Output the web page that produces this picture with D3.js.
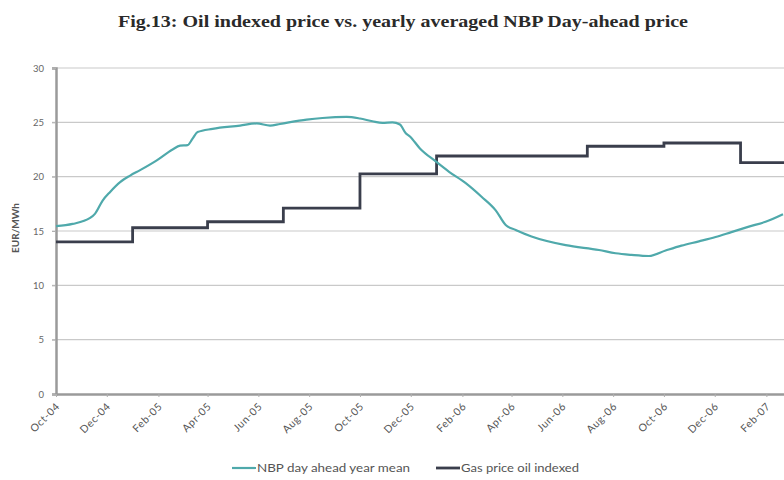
<!DOCTYPE html>
<html>
<head>
<meta charset="utf-8">
<script src="https://cdn.jsdelivr.net/npm/d3@7/dist/d3.min.js"></script>
<style>
  html, body { margin: 0; padding: 0; background: #fff; }
  svg { display: block; }
</style>
</head>
<body>
<svg id="chart" width="784" height="480"></svg>
<script>
// NBP day-ahead price, rolling year mean (EUR/MWh)
const nbpDates = [
  "2004-10-01","2004-10-21","2004-11-11","2004-11-17","2004-11-26","2004-12-05",
  "2004-12-17","2004-12-29","2005-01-10","2005-01-30","2005-02-18","2005-02-27",
  "2005-03-08","2005-03-14","2005-03-20","2005-04-07","2005-05-10","2005-05-30",
  "2005-06-15","2005-06-27","2005-07-29","2005-08-17","2005-09-15","2005-10-01",
  "2005-10-16","2005-10-28","2005-11-09","2005-11-18","2005-11-25","2005-11-30",
  "2005-12-12","2005-12-31","2006-01-16","2006-02-05","2006-02-24","2006-03-13",
  "2006-03-25","2006-04-06","2006-04-25","2006-06-05","2006-07-15","2006-08-04",
  "2006-08-23","2006-09-13","2006-10-03","2006-10-22","2006-11-12","2006-12-02",
  "2006-12-21","2007-01-11","2007-01-31","2007-02-21"
];
const nbpValues = [
  15.45, 15.65, 16.2, 16.6, 17.8, 18.6,
  19.5, 20.1, 20.6, 21.5, 22.5, 22.85,
  22.9, 23.5, 24.1, 24.4, 24.7, 24.9,
  24.7, 24.85, 25.25, 25.4, 25.5, 25.35,
  25.1, 24.95, 25.0, 24.8, 24.0, 23.7,
  22.6, 21.4, 20.45, 19.4, 18.15, 16.9,
  15.55, 15.1, 14.5, 13.7, 13.25, 12.95,
  12.8, 12.7, 13.2, 13.65, 14.05, 14.45,
  14.9, 15.4, 15.85, 16.55
];

// Oil indexed gas price, quarterly resets (EUR/MWh)
const gasDates = [
  "2004-10-01","2005-01-01","2005-04-01","2005-07-01","2005-10-01",
  "2006-01-01","2006-07-01","2006-10-01","2007-01-01","2007-03-01"
];
const gasValues = [14.0, 15.3, 15.85, 17.1, 20.25, 21.9, 22.8, 23.1, 21.3, 21.3];

const yTicks = [0, 5, 10, 15, 20, 25, 30];
const xTickDates = [
  "2004-10-01","2004-12-01","2005-02-01","2005-04-01","2005-06-01","2005-08-01",
  "2005-10-01","2005-12-01","2006-02-01","2006-04-01","2006-06-01","2006-08-01",
  "2006-10-01","2006-12-01","2007-02-01"
];
const seriesNames = ["NBP day ahead year mean", "Gas price oil indexed"];
const titleText = "Fig.13: Oil indexed price vs. yearly averaged NBP Day-ahead price";
const yTitle = "EUR/MWh";

const parse = d3.utcParse("%Y-%m-%d");
const fmt = d3.utcFormat("%b-%y");
const nbp = nbpDates.map((d, i) => ({ date: parse(d), value: nbpValues[i] }));
const gas = gasDates.map((d, i) => ({ date: parse(d), value: gasValues[i] }));

const svg = d3.select("#chart");
const plotLeft = 56, plotBottom = 394, plotTop = 68;
const sans = "Lato, 'Open Sans', sans-serif";

const x = d3.scaleUtc()
  .domain([parse("2004-10-01"), parse("2007-03-01")])
  .range([plotLeft, plotLeft + 881 * (50.8 / 61)]);
const y = d3.scaleLinear().domain([0, 30]).range([plotBottom, plotTop]);

// title
svg.append("text")
  .attr("x", 403).attr("y", 27)
  .attr("text-anchor", "middle")
  .attr("font-family", "'Liberation Serif', 'DejaVu Serif', serif")
  .attr("font-weight", "bold")
  .attr("font-size", 17)
  .attr("fill", "#2a2a2a")
  .attr("textLength", 570)
  .attr("lengthAdjust", "spacingAndGlyphs")
  .text(titleText);

// horizontal gridlines
svg.append("g")
  .selectAll("line")
  .data(yTicks.filter(t => t > 0))
  .join("line")
  .attr("x1", plotLeft - 4).attr("x2", 790)
  .attr("y1", d => y(d)).attr("y2", d => y(d))
  .attr("stroke", "#c9c9c9").attr("stroke-width", 1.2);

// y axis
const yAxis = svg.append("g")
  .attr("transform", `translate(${plotLeft},0)`)
  .call(d3.axisLeft(y).tickValues(yTicks).tickSize(4).tickPadding(8));
yAxis.select(".domain").attr("stroke", "#9a9a9a").attr("stroke-width", 2.5);
yAxis.selectAll(".tick line").attr("stroke", "#b0b0b0");
yAxis.selectAll("text")
  .attr("font-family", sans)
  .attr("font-size", 9.5).attr("fill", "#666");

svg.append("text")
  .attr("transform", `translate(19,${(plotTop + plotBottom) / 2 - 3}) rotate(-90)`)
  .attr("text-anchor", "middle")
  .attr("font-family", sans)
  .attr("font-weight", "bold")
  .attr("font-size", 10).attr("fill", "#555")
  .text(yTitle);

// x axis
const xAxis = svg.append("g")
  .attr("transform", `translate(0,${plotBottom})`)
  .call(d3.axisBottom(x).tickValues(xTickDates.map(parse)).tickFormat(fmt).tickSize(3).tickSizeOuter(0));
xAxis.select(".domain").attr("stroke", "#9a9a9a").attr("stroke-width", 2.5)
  .attr("d", `M${plotLeft},0.5H790`);
xAxis.selectAll(".tick line").attr("stroke", "#b0b0b0");
xAxis.selectAll("text")
  .attr("font-family", sans)
  .attr("font-size", 10.5).attr("fill", "#555")
  .attr("letter-spacing", 0.6)
  .attr("text-anchor", "end")
  .attr("dy", null).attr("y", 0)
  .attr("transform", "translate(4,13) rotate(-45)");

// series lines
svg.append("path")
  .datum(gas)
  .attr("fill", "none")
  .attr("stroke", "#3a3e4c")
  .attr("stroke-width", 2.8)
  .attr("d", d3.line().x(d => x(d.date)).y(d => y(d.value)).curve(d3.curveStepAfter));

svg.append("path")
  .datum(nbp)
  .attr("fill", "none")
  .attr("stroke", "#4fa9ab")
  .attr("stroke-width", 2.2)
  .attr("stroke-linejoin", "round")
  .attr("d", d3.line().x(d => x(d.date)).y(d => y(d.value)).curve(d3.curveMonotoneX));

// legend
const legend = svg.append("g").attr("transform", "translate(232,468)");
const legendItems = [
  { name: seriesNames[0], color: "#4fa9ab", w: 2.2, x: 0, len: 153 },
  { name: seriesNames[1], color: "#3a3e4c", w: 2.8, x: 204, len: 118 }
];
legendItems.forEach(it => {
  legend.append("line")
    .attr("x1", it.x).attr("x2", it.x + 24)
    .attr("y1", 0).attr("y2", 0)
    .attr("stroke", it.color).attr("stroke-width", it.w);
  legend.append("text")
    .attr("x", it.x + 25).attr("y", 4)
    .attr("font-family", sans)
    .attr("font-size", 11).attr("fill", "#555")
    .attr("textLength", it.len)
    .attr("lengthAdjust", "spacingAndGlyphs")
    .text(it.name);
});
</script>
</body>
</html>
